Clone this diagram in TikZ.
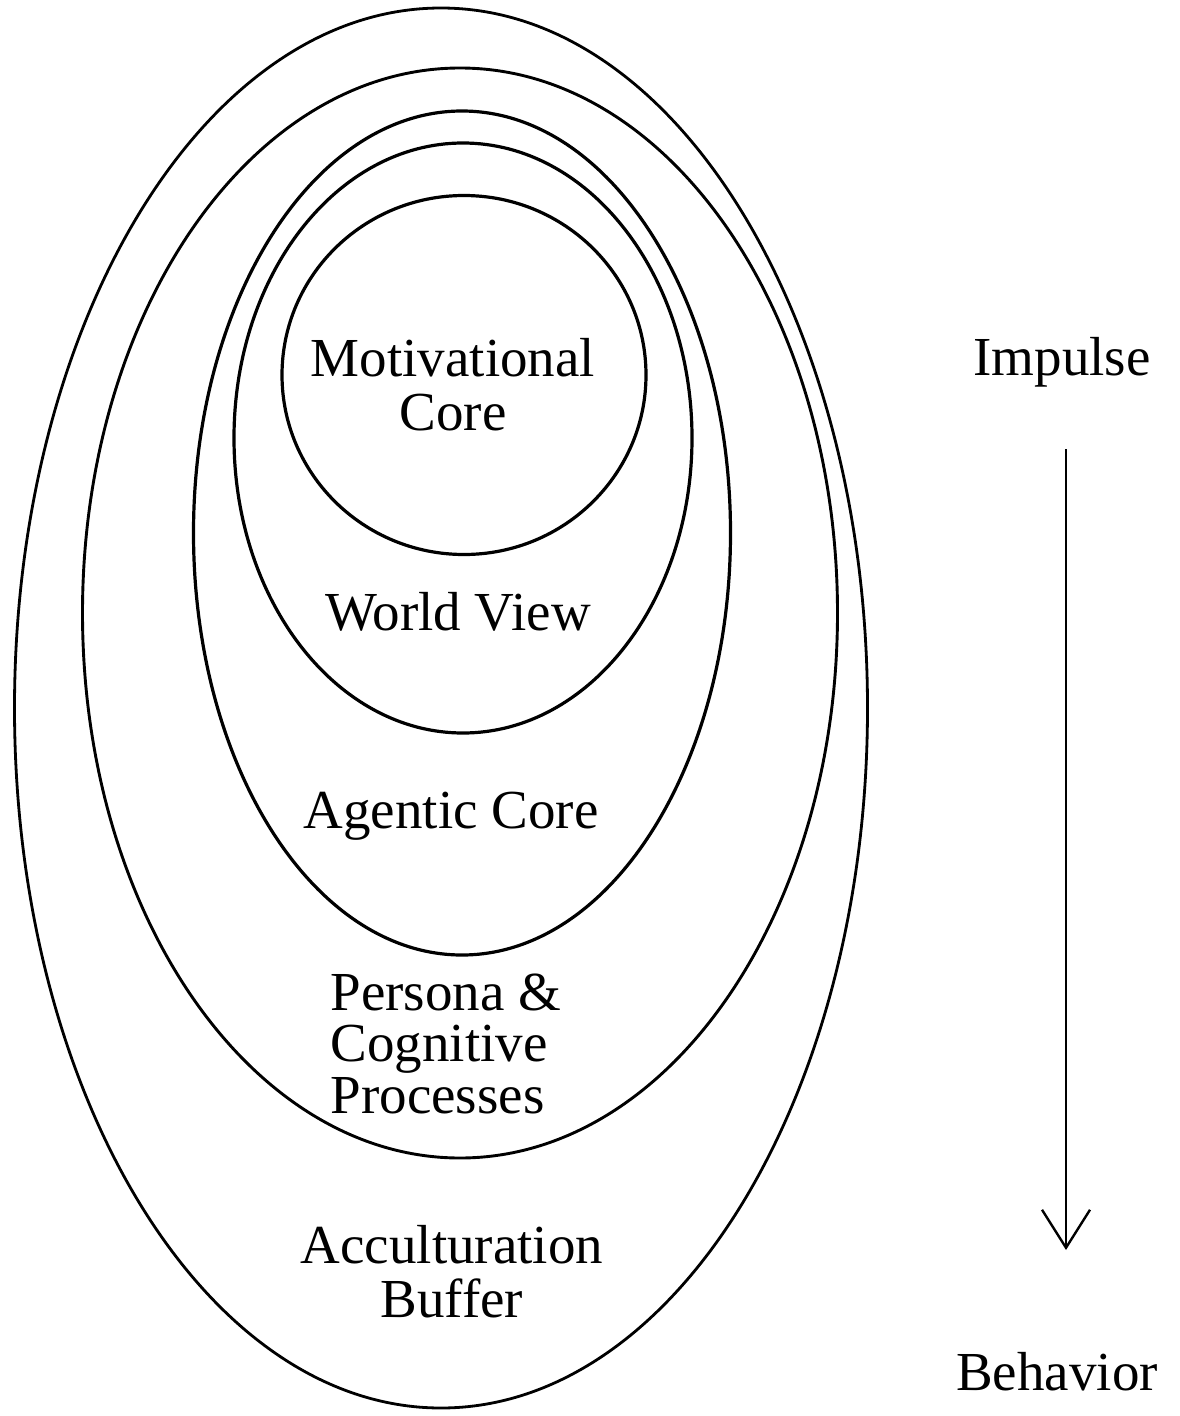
\documentclass[tikz,border=0pt]{standalone}
\usepackage{fontspec}
\setmainfont{Liberation Serif}
\usetikzlibrary{shapes.geometric,arrows.meta}
\tikzset{
  ring/.style={ellipse, draw=black, inner sep=0pt, line width=#1},
  ring/.default=3pt,
  lbl/.style={font=\fontsize{55}{54}\selectfont, inner sep=0pt, anchor=base, align=center},
  flowarrow/.style={line width=2.4pt, -{Straight Barb[length=38pt,width=48pt,line width=2.4pt]}}
}
\begin{document}
\begin{tikzpicture}[x=1pt,y=-1pt]
\useasboundingbox (0,0) rectangle (1180,1416);
% nested rings
\node[ring=2.8pt, minimum width=853pt, minimum height=1400pt] (accult) at (441,708) {};
\node[ring=2.9pt, minimum width=755pt, minimum height=1090pt] (persona) at (460,613) {};
\node[ring=3.2pt, minimum width=537pt, minimum height=844pt] (agentic) at (462,533) {};
\node[ring=3.2pt, minimum width=458pt, minimum height=590pt] (world) at (463,438) {};
\node[ring=3.2pt, minimum width=364pt, minimum height=359pt] (motiv) at (464,375) {};
% labels (anchor=base sits on the last line's baseline)
\node[lbl] (tmotiv) at (453,430) {Motivational\\Core};
\node[lbl] (tworld) at (458,630) {World View};
\node[lbl] (tagentic) at (451,828) {Agentic Core};
\node[lbl, align=left, font=\fontsize{55}{51.5}\selectfont] (tpersona) at (446,1113) {Persona \&\\Cognitive\\Processes};
\node[lbl] (taccult) at (452,1317) {Acculturation\\Buffer};
\node[lbl] (impulse) at (1062,375) {Impulse};
\node[lbl] (behavior) at (1057,1390) {Behavior};
% arrow
\coordinate (arrtop) at (1066,449);
\coordinate (arrbot) at (1066,1250);
\draw[flowarrow] (arrtop) -- (arrbot);
\end{tikzpicture}
\end{document}
